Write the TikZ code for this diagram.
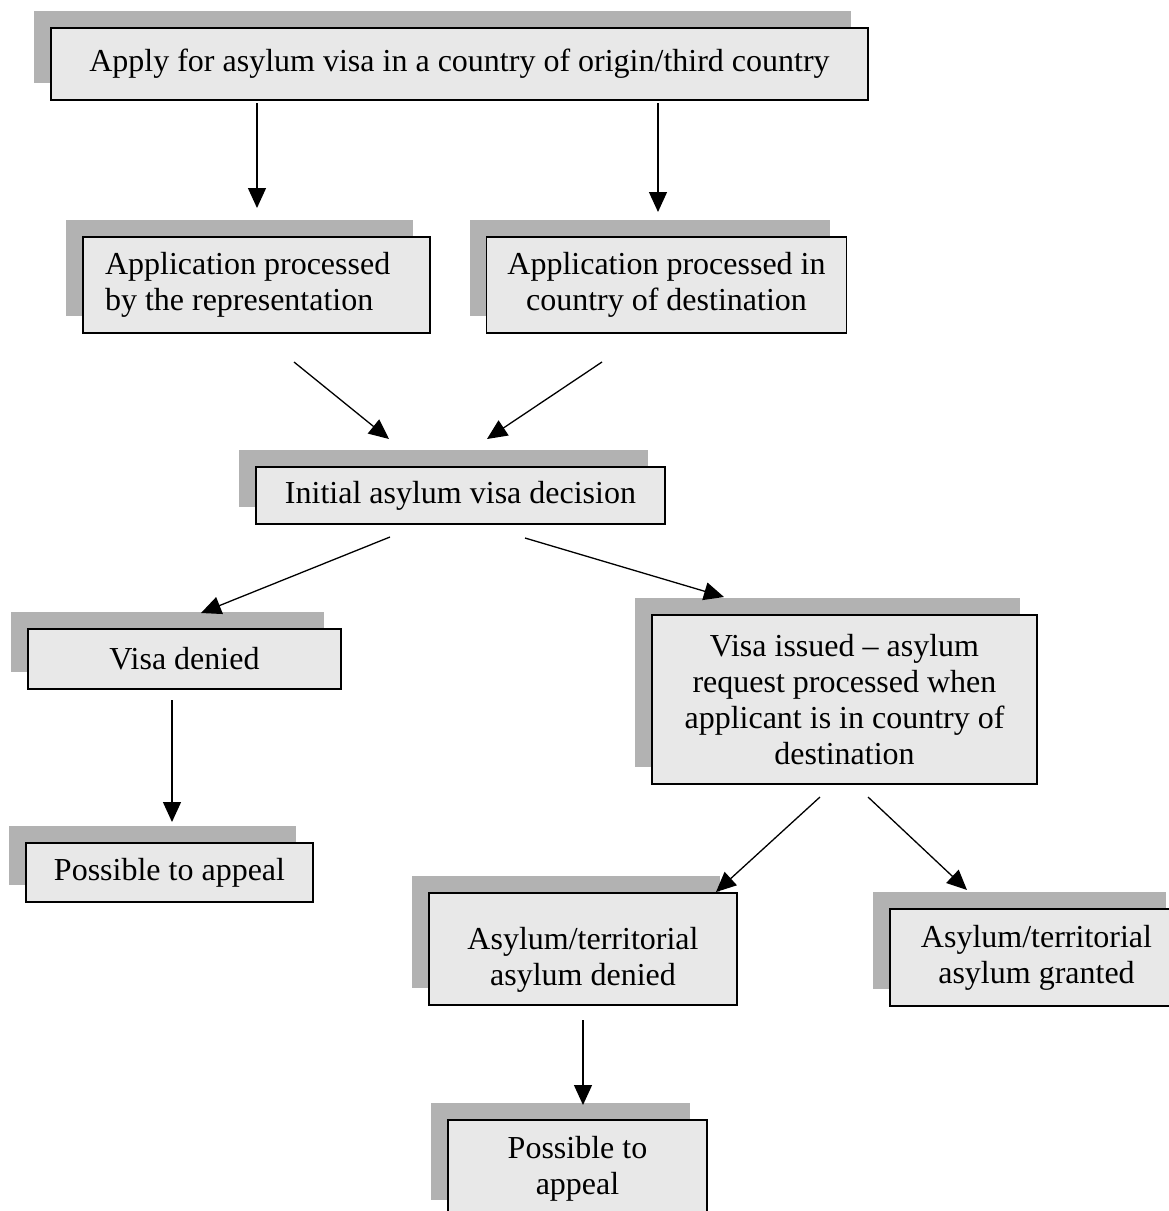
\documentclass[tikz,border=0pt]{standalone}
\usepackage{fontspec}
\setmainfont{Liberation Serif}
\usetikzlibrary{arrows.meta,shadows}
\definecolor{boxfill}{HTML}{E8E8E8}
\definecolor{shadowgray}{HTML}{B2B2B2}
\begin{document}
\begin{tikzpicture}[x=1pt,y=-1pt,
  flowbox/.style={draw=black, line width=1.4pt, fill=boxfill, inner sep=0pt,
    align=center, font=\fontsize{32}{36}\selectfont,
    general shadow={fill=shadowgray, draw=none, shadow xshift=-17pt, shadow yshift=17pt}},
  flowarrow/.style={line width=1.3pt, -{Triangle[length=20pt,width=18pt]}}]
\useasboundingbox (0,0) rectangle (1169,1211);
\node[flowbox, minimum width=817pt, minimum height=72pt] (apply) at (459.5,64)
  {Apply for asylum visa in a country of origin/third country};
\node[flowbox, minimum width=347pt, minimum height=96pt, text width=303pt, align=flush left] (repr) at (256.5,285)
  {Application processed\\by the representation};
\node[flowbox, minimum width=360pt, minimum height=96pt] (dest) at (666.5,285)
  {Application processed in\\country of destination};
\node[flowbox, minimum width=409pt, minimum height=57pt] (initial) at (460.5,495.5)
  {Initial asylum visa decision};
\node[flowbox, minimum width=313pt, minimum height=60pt] (denied) at (184.5,659)
  {Visa denied};
\node[flowbox, minimum width=287pt, minimum height=59pt] (appealA) at (169.5,872.5)
  {Possible to appeal};
\node[flowbox, minimum width=385pt, minimum height=169pt] (issued) at (844.5,699.5)
  {Visa issued -- asylum\\request processed when\\applicant is in country of\\destination};
\node[flowbox, minimum width=308pt, minimum height=112pt] (asyden) at (583,949)
  {\rule{0pt}{44pt}Asylum/territorial\\asylum denied};
\node[flowbox, minimum width=293pt, minimum height=97pt] (asygra) at (1036.5,957.5)
  {Asylum/territorial\\asylum granted};
\node[flowbox, minimum width=259pt, minimum height=97pt] (appealB) at (577.5,1168.5)
  {Possible to\\appeal};
% arrow end points
\coordinate (a1s) at (257,103);  \coordinate (a1e) at (257,208);
\coordinate (a2s) at (658,103);  \coordinate (a2e) at (658,212);
\coordinate (a3s) at (294,362);  \coordinate (a3e) at (389,439);
\coordinate (a4s) at (602,362);  \coordinate (a4e) at (487,439);
\coordinate (a5s) at (390,537);  \coordinate (a5e) at (201,613);
\coordinate (a6s) at (525,538);  \coordinate (a6e) at (724,597);
\coordinate (a7s) at (172,700);  \coordinate (a7e) at (172,822);
\coordinate (a8s) at (820,797);  \coordinate (a8e) at (716,892);
\coordinate (a9s) at (868,797);  \coordinate (a9e) at (967,890);
\coordinate (a10s) at (583,1020); \coordinate (a10e) at (583,1105);
\draw[flowarrow] (a1s) -- (a1e);
\draw[flowarrow] (a2s) -- (a2e);
\draw[flowarrow] (a3s) -- (a3e);
\draw[flowarrow] (a4s) -- (a4e);
\draw[flowarrow] (a5s) -- (a5e);
\draw[flowarrow] (a6s) -- (a6e);
\draw[flowarrow] (a7s) -- (a7e);
\draw[flowarrow] (a8s) -- (a8e);
\draw[flowarrow] (a9s) -- (a9e);
\draw[flowarrow] (a10s) -- (a10e);
\end{tikzpicture}
\end{document}
